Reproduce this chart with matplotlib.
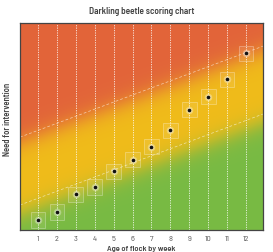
import numpy as np
import matplotlib
matplotlib.use("Agg")
import matplotlib.pyplot as plt
from matplotlib.patches import Rectangle

# ---- data ----
weeks = [1, 2, 3, 4, 5, 6, 7, 8, 9, 10, 11, 12]
need_scores = [0.48, 0.87, 1.72, 2.08, 2.84, 3.40, 4.02, 4.82, 5.81, 6.44, 7.28, 8.54]
tick_labels = ["1", "2", "3", "4", "5", "6", "7", "8", "9", "10", "11", "12"]
# zone boundary lines: (intercept at x=0, slope)
upper_line = (4.47, 0.342)
lower_line = (1.19, 0.342)

title = "Darkling beetle scoring chart"
xlabel = "Age of flock by week"
ylabel = "Need for intervention"

FONT = ["Barlow Semi Condensed", "DejaVu Sans"]
XMIN, XMAX, YMIN, YMAX = 0.05, 12.9, 0.0, 10.0

fig = plt.figure(figsize=(2.73, 2.53), dpi=100)
ax = fig.add_axes([20 / 273, 1 - 231 / 253, 243 / 273, 207 / 253])

# ---- background gradient ----
nx, ny = 400, 340
xs = np.linspace(XMIN, XMAX, nx)
ys = np.linspace(YMIN, YMAX, ny)
X, Y = np.meshgrid(xs, ys)
red = np.array([226, 100, 58]) / 255
yellow = np.array([240, 188, 26]) / 255
green = np.array([120, 186, 68]) / 255
yu = upper_line[0] + upper_line[1] * X
yl = lower_line[0] + lower_line[1] * X
wr = 1 / (1 + np.exp(-(Y - (yu - 0.25)) / 0.3))
wg = 1 / (1 + np.exp(-((yl - 0.45) - Y) / 0.3))
img = yellow[None, None, :] * np.ones((ny, nx, 3))
img = img * (1 - wr[..., None]) + red[None, None, :] * wr[..., None]
img = img * (1 - wg[..., None]) + green[None, None, :] * wg[..., None]
ax.imshow(img, extent=[XMIN, XMAX, YMIN, YMAX], origin="lower", aspect="auto", zorder=0)

# zone boundary dashed lines
lx = np.array([XMIN, XMAX])
for b0, b1 in (upper_line, lower_line):
    ax.plot(lx, b0 + b1 * lx, color="white", lw=0.5, ls=(0, (4, 3)), alpha=0.6, zorder=1)

# vertical dotted week lines
for w in weeks:
    ax.axvline(w, color="white", lw=0.7, ls=(0, (1.3, 1.2)), alpha=0.75, zorder=2)

# boxes around points
bw, bh = 0.78, 0.74
for w, v in zip(weeks, need_scores):
    ax.add_patch(Rectangle((w - bw / 2, v - bh / 2), bw, bh, facecolor=(1, 1, 1, 0.08),
                           edgecolor=(1, 1, 1, 0.4), lw=0.5, zorder=3))

# glow and points
ax.scatter(weeks, need_scores, s=30, color="white", alpha=0.3, lw=0, zorder=4)
ax.scatter(weeks, need_scores, s=14, color="white", alpha=0.4, lw=0, zorder=4)
ax.scatter(weeks, need_scores, s=7, color="#111111", lw=0, zorder=5)

ax.set_xlim(XMIN, XMAX)
ax.set_ylim(YMIN, YMAX)
ax.set_xticks(weeks)
ax.set_xticklabels(tick_labels, fontsize=6, color="#555555", family=FONT)
ax.tick_params(axis="x", length=0, pad=3.5)
ax.set_yticks([])
for s in ax.spines.values():
    s.set_color("#444444")
    s.set_linewidth(0.9)

fig.text(0.5 * (20 + 263) / 273, 1 - 12 / 253, title, ha="center", va="center",
         fontsize=6.7, fontweight=600, color="#444444", family=FONT)
fig.text(0.5 * (20 + 263) / 273, 1 - 249 / 253, xlabel, ha="center", va="center",
         fontsize=6, fontweight=600, color="#444444", family=FONT)
fig.text(8 / 273, 1 - 119 / 253, ylabel, ha="center", va="center", rotation=90,
         fontsize=6.2, fontweight=600, color="#444444", family=FONT)

fig.savefig("out.png", dpi=100)
